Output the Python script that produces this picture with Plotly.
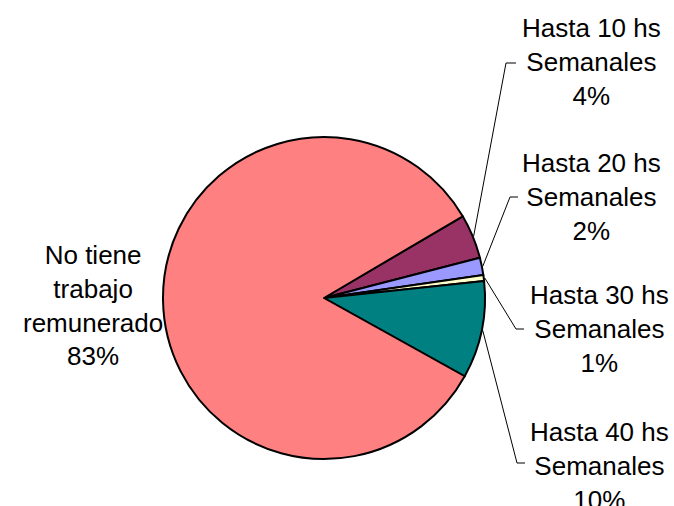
import math
import plotly.graph_objects as go

labels = ["Hasta 10 hs<br>Semanales", "Hasta 20 hs<br>Semanales", "Hasta 30 hs<br>Semanales",
          "Hasta 40 hs<br>Semanales", "No tiene<br>trabajo<br>remunerado"]
values = [4.45, 1.75, 0.6, 9.75, 83.45]
colors = ["#993366", "#9999FF", "#FFFFCC", "#008080", "#FF8080"]

W, H = 674, 506
CX, CY, R = 324, 298, 161
ROT = 59.5

# label placement (pixel coords) and leader elbow points
label_pos = [(591, 62), (591, 197), (599, 329), (599, 466), (93, 305)]
elbows = [[(506, 63), (516, 63)], [(510, 197), (518, 197)], [(516, 329), (524, 329)],
          [(517, 463), (525, 463)], None]

fig = go.Figure()
fig.add_trace(go.Pie(
    labels=labels, values=values, sort=False, direction="clockwise", rotation=ROT,
    marker=dict(colors=colors, line=dict(color="black", width=2)),
    textinfo="none", hoverinfo="skip", showlegend=False,
    domain=dict(x=[(CX - R) / W, (CX + R) / W], y=[(H - CY - R) / H, (H - CY + R) / H]),
))

total = sum(values)
cum = 0.0
shapes = []
annotations = []
for i, (lab, v) in enumerate(zip(labels, values)):
    mid = ROT + (cum + v / 2) / total * 360
    cum += v
    pct = round(v / total * 100)
    lx, ly = label_pos[i]
    annotations.append(dict(x=lx, y=ly, xref="x", yref="y", text=f"{lab}<br>{pct}%",
                            showarrow=False, xanchor="center", yanchor="middle", align="center",
                            font=dict(family="Liberation Sans, Arial", size=26, color="black")))
    if elbows[i]:
        a = math.radians(mid)
        sx, sy = CX + (R + 1) * math.sin(a), CY - (R + 1) * math.cos(a)
        pts = [(sx, sy)] + elbows[i]
        path = "M " + " L ".join(f"{x},{y}" for x, y in pts)
        shapes.append(dict(type="path", path=path, xref="x", yref="y",
                           line=dict(color="black", width=1)))

fig.update_layout(
    width=W, height=H, margin=dict(l=0, r=0, t=0, b=0),
    paper_bgcolor="white", plot_bgcolor="rgba(0,0,0,0)",
    xaxis=dict(range=[0, W], visible=False, fixedrange=True),
    yaxis=dict(range=[H, 0], visible=False, fixedrange=True),
    shapes=shapes, annotations=annotations,
)
fig.write_html("out.html", config={"displayModeBar": False, "staticPlot": True},
               post_script="document.body.style.margin='0';document.body.style.overflow='hidden';")
